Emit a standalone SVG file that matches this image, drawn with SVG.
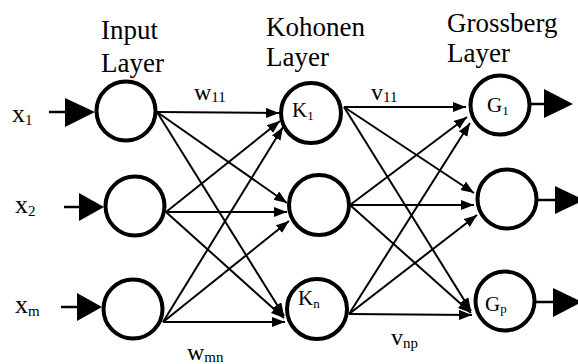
<svg xmlns="http://www.w3.org/2000/svg" width="578" height="364" viewBox="0 0 578 364">
  <style>
    .node { fill: #fff; stroke: #000; stroke-width: 4; }
    .edge { stroke: #000; stroke-width: 2; fill: none; }
    .io { stroke: #000; stroke-width: 2.5; fill: none; }
    .head { fill: #000; stroke: none; }
    .title { font-size: 27px; }
    .var { font-size: 26px; }
    .wt { font-size: 24px; }
    .lbl { font-size: 21px; }
    .sub { font-size: 15px; }
    .subs { font-size: 13px; }
  </style>
  <defs>
    <marker id="arrow" markerUnits="userSpaceOnUse" markerWidth="14" markerHeight="12" refX="13" refY="5" orient="auto">
      <path d="M0,0 L13,5 L0,10 Z" fill="#000"/>
    </marker>
  </defs>

  <!-- weighted connections -->
  <g id="connectors">
    <!-- input layer to Kohonen layer -->
    <line class="edge" x1="157" y1="112" x2="279" y2="113" marker-end="url(#arrow)"/>
    <line class="edge" x1="157" y1="112" x2="287" y2="203" marker-end="url(#arrow)"/>
    <line class="edge" x1="157" y1="112" x2="284" y2="316" marker-end="url(#arrow)"/>
    <line class="edge" x1="166" y1="212" x2="280" y2="121" marker-end="url(#arrow)"/>
    <line class="edge" x1="166" y1="212" x2="287" y2="212" marker-end="url(#arrow)"/>
    <line class="edge" x1="166" y1="212" x2="284" y2="318" marker-end="url(#arrow)"/>
    <line class="edge" x1="163" y1="322" x2="283" y2="127" marker-end="url(#arrow)"/>
    <line class="edge" x1="163" y1="322" x2="289" y2="221" marker-end="url(#arrow)"/>
    <line class="edge" x1="163" y1="322" x2="285" y2="322" marker-end="url(#arrow)"/>
    <!-- Kohonen layer to Grossberg layer -->
    <line class="edge" x1="344" y1="107" x2="466" y2="107" marker-end="url(#arrow)"/>
    <line class="edge" x1="344" y1="107" x2="474" y2="193" marker-end="url(#arrow)"/>
    <line class="edge" x1="344" y1="107" x2="471" y2="311" marker-end="url(#arrow)"/>
    <line class="edge" x1="350" y1="205" x2="467" y2="117" marker-end="url(#arrow)"/>
    <line class="edge" x1="350" y1="205" x2="474" y2="205" marker-end="url(#arrow)"/>
    <line class="edge" x1="350" y1="205" x2="471" y2="313" marker-end="url(#arrow)"/>
    <line class="edge" x1="349" y1="314" x2="470" y2="123" marker-end="url(#arrow)"/>
    <line class="edge" x1="349" y1="314" x2="477" y2="215" marker-end="url(#arrow)"/>
    <line class="edge" x1="349" y1="314" x2="472" y2="315" marker-end="url(#arrow)"/>
    <!-- external inputs -->
    <line class="io" x1="49" y1="112" x2="66" y2="112"/>
    <polygon class="head" points="65,98 95,112 65,127"/>
    <line class="io" x1="64" y1="207" x2="80" y2="207"/>
    <polygon class="head" points="79,193 104,207 79,221"/>
    <line class="io" x1="61" y1="307" x2="78" y2="307"/>
    <polygon class="head" points="77,293 102,307 77,321"/>
    <!-- outputs -->
    <line class="io" x1="531" y1="104" x2="545" y2="104"/>
    <polygon class="head" points="544,89 573,104 544,118"/>
    <line class="io" x1="538" y1="200" x2="556" y2="200"/>
    <polygon class="head" points="555,186 584,200 555,214"/>
    <line class="io" x1="536" y1="302" x2="554" y2="302"/>
    <polygon class="head" points="553,288 582,302 553,317"/>
  </g>

  <!-- input layer -->
  <g id="input-1"><circle class="node" cx="126" cy="111" r="29.5"/></g>
  <g id="input-2"><circle class="node" cx="135" cy="206" r="29.5"/></g>
  <g id="input-m"><circle class="node" cx="133" cy="309" r="29.5"/></g>

  <g font-family="'Liberation Serif', 'DejaVu Serif', serif" fill="#000">
    <!-- layer titles -->
    <g id="titles">
      <text class="title" x="101" y="39">Input</text>
      <text class="title" x="101" y="72">Layer</text>
      <text class="title" x="266" y="36">Kohonen</text>
      <text class="title" x="266" y="66">Layer</text>
      <text class="title" x="447" y="32">Grossberg</text>
      <text class="title" x="447" y="62">Layer</text>
    </g>

    <!-- Kohonen layer -->
    <g id="kohonen-1">
      <circle class="node" cx="311" cy="113" r="30"/>
      <text class="lbl" x="292" y="117">K<tspan class="subs" dy="3">1</tspan></text>
    </g>
    <g id="kohonen-2"><circle class="node" cx="319" cy="205" r="30"/></g>
    <g id="kohonen-n">
      <circle class="node" cx="317" cy="309" r="30"/>
      <text class="lbl" x="298" y="305">K<tspan class="subs" dy="3">n</tspan></text>
    </g>

    <!-- Grossberg layer -->
    <g id="grossberg-1">
      <circle class="node" cx="500" cy="105" r="29.5"/>
      <text class="lbl" x="487" y="112">G<tspan class="subs" dy="3">1</tspan></text>
    </g>
    <g id="grossberg-2"><circle class="node" cx="507" cy="199" r="29.5"/></g>
    <g id="grossberg-p">
      <circle class="node" cx="505" cy="301" r="29.5"/>
      <text class="lbl" x="485" y="311">G<tspan class="subs" dy="2">p</tspan></text>
    </g>

    <!-- input variables -->
    <g id="inputs">
      <text class="var" x="12" y="122">x<tspan class="sub" dy="3">1</tspan></text>
      <text class="var" x="15" y="213">x<tspan class="sub" dy="3">2</tspan></text>
      <text class="var" x="15" y="313">x<tspan class="sub" dy="3">m</tspan></text>
    </g>

    <!-- weight labels -->
    <g id="weights">
      <text class="wt" x="194" y="100">w<tspan class="sub" dy="2">11</tspan></text>
      <text class="wt" x="371" y="100">v<tspan class="sub" dy="2">11</tspan></text>
      <text class="wt" x="187" y="360">w<tspan class="sub" dy="2">mn</tspan></text>
      <text class="wt" x="391" y="345">v<tspan class="sub" dy="3">np</tspan></text>
    </g>
  </g>
</svg>
